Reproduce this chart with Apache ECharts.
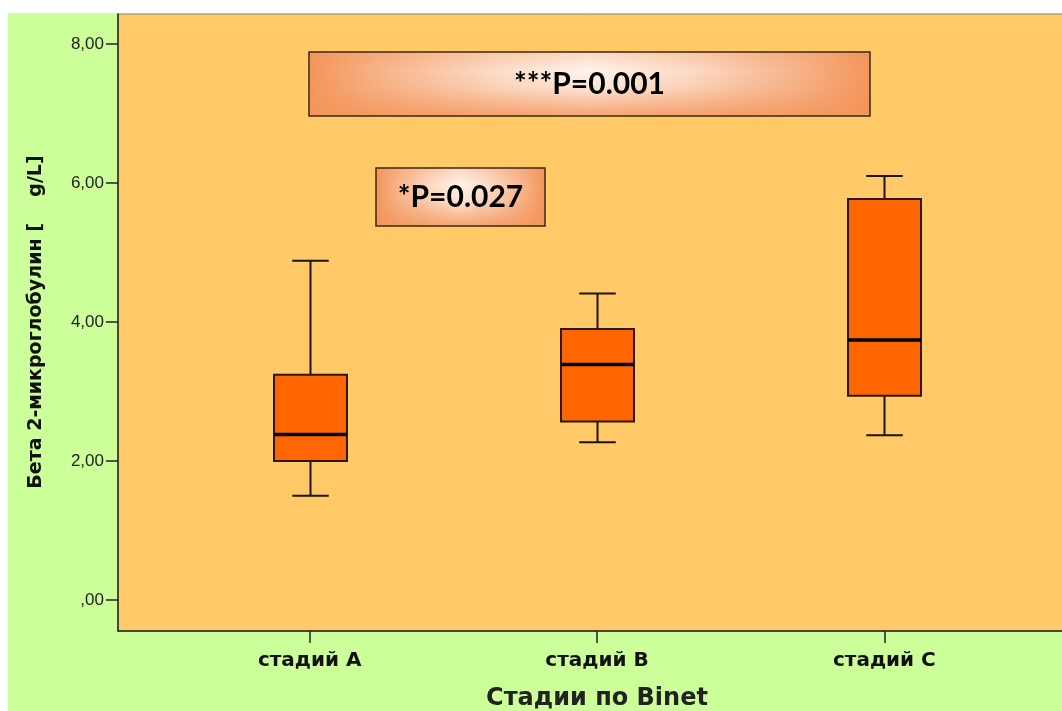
<!DOCTYPE html>
<html>
<head>
<meta charset="utf-8">
<script src="https://cdn.jsdelivr.net/npm/echarts@6/dist/echarts.min.js"></script>
<style>
  html, body { margin: 0; padding: 0; background: #ffffff; }
  #chart { width: 1062px; height: 711px; }
</style>
</head>
<body>
<div id="chart"></div>
<script>
// Beta-2-microglobulin by Binet stage: five-number summaries per stage
const categories   = ['стадий A', 'стадий B', 'стадий C'];
const minValues    = [1.50, 2.27, 2.37];
const q1Values     = [2.00, 2.57, 2.94];
const medianValues = [2.38, 3.39, 3.74];
const q3Values     = [3.24, 3.90, 5.77];
const maxValues    = [4.88, 4.41, 6.10];
const yTickValues  = [0, 2, 4, 6, 8];
const pLabels      = ['***P=0.001', '*P=0.027'];

const boxRows = categories.map((c, i) =>
  [i, minValues[i], q1Values[i], medianValues[i], q3Values[i], maxValues[i]]);

const chart = echarts.init(document.getElementById('chart'), null, { renderer: 'canvas' });

const wideFont = '"DejaVu Sans", Verdana, sans-serif';
const edge = '#f3955a';
function hGrad() {
  return new echarts.graphic.LinearGradient(0, 0, 1, 0, [
    { offset: 0, color: edge },
    { offset: 0.12, color: '#f7b287' },
    { offset: 0.33, color: '#fcdcc8' },
    { offset: 0.5, color: '#fff4ec' },
    { offset: 0.67, color: '#fcdcc8' },
    { offset: 0.88, color: '#f7b287' },
    { offset: 1, color: edge }
  ]);
}
function vGrad() {
  return new echarts.graphic.LinearGradient(0, 0, 0, 1, [
    { offset: 0, color: 'rgba(243,149,90,0.30)' },
    { offset: 0.3, color: 'rgba(243,149,90,0)' },
    { offset: 0.55, color: 'rgba(243,149,90,0.15)' },
    { offset: 1, color: 'rgba(243,149,90,0.85)' }
  ]);
}
// p-value annotation box with a soft orange frame gradient
function pBox(x, y, w, h, text) {
  return {
    type: 'group', z: 50,
    children: [
      { type: 'rect', shape: { x: x, y: y, width: w, height: h }, style: { fill: hGrad() } },
      { type: 'rect', shape: { x: x, y: y, width: w, height: h },
        style: { fill: vGrad(), stroke: '#3a2818', lineWidth: 1.5 } },
      { type: 'text', x: x + w / 2, y: y + h / 2,
        style: { text: text, fill: '#000', font: 'bold 30px Lato, "Open Sans", sans-serif',
                 align: 'center', verticalAlign: 'middle' } }
    ]
  };
}

const option = {
  animation: false,
  backgroundColor: '#ccff99',
  textStyle: { fontFamily: '"Liberation Sans", Arial, sans-serif' },
  graphic: [
    { type: 'rect', z: 40, shape: { x: 0, y: 0, width: 8, height: 711 }, style: { fill: '#ffffff' } },
    { type: 'rect', z: 40, shape: { x: 0, y: 0, width: 1062, height: 13 }, style: { fill: '#ffffff' } },
    pBox(309, 52, 561, 64, pLabels[0]),
    pBox(376, 168, 169, 58, pLabels[1])
  ],
  grid: [
    // plot frame
    { left: 118, right: -2, top: 14, bottom: 80, show: true, outerBoundsMode: 'none',
      backgroundColor: '#fec966', borderColor: '#8c8c8c', borderWidth: 1 },
    // data area
    { left: 166, right: 34, top: 44, bottom: 111, outerBoundsMode: 'none' },
    // category ticks and labels along the frame bottom
    { left: 166, right: 34, top: 14, bottom: 80, outerBoundsMode: 'none' }
  ],
  xAxis: [
    { type: 'value', gridIndex: 0, min: 0, max: 1,
      axisLine: { show: true, lineStyle: { color: '#222', width: 1.5 } },
      axisTick: { show: false }, axisLabel: { show: false }, splitLine: { show: false } },
    { type: 'category', gridIndex: 1, data: categories, show: false },
    { type: 'category', gridIndex: 2, data: categories,
      axisLine: { show: false },
      axisTick: { show: true, alignWithLabel: true, length: 12, lineStyle: { color: '#222', width: 1.5 } },
      axisLabel: { margin: 20, fontSize: 20, fontWeight: 'bold', color: '#111', fontFamily: wideFont },
      name: 'Стадии по Binet', nameLocation: 'middle', nameGap: 56,
      nameTextStyle: { fontSize: 24, fontWeight: 'bold', color: '#222', fontFamily: wideFont } }
  ],
  yAxis: [
    { type: 'value', gridIndex: 0, min: 0, max: 1,
      axisLine: { show: true, lineStyle: { color: '#222', width: 1.5 } },
      axisTick: { show: false }, axisLabel: { show: false }, splitLine: { show: false } },
    { type: 'value', gridIndex: 1, min: 0, max: 8, interval: 2, offset: 48,
      axisLine: { show: false },
      axisTick: { show: true, length: 12, lineStyle: { color: '#222', width: 1.5 } },
      splitLine: { show: false },
      axisLabel: { margin: 14, fontSize: 17, color: '#222',
        formatter: v => yTickValues.includes(v) ? (v === 0 ? ',00' : v.toFixed(2).replace('.', ',')) : '' },
      name: 'Бета 2-микроглобулин [    g/L]', nameLocation: 'middle', nameRotate: 90, nameGap: 72,
      nameTextStyle: { fontSize: 19, fontWeight: 'bold', color: '#111', fontFamily: wideFont } },
    { type: 'value', gridIndex: 2, min: 0, max: 1, show: false }
  ],
  series: [{
    type: 'custom',
    xAxisIndex: 1, yAxisIndex: 1,
    data: boxRows,
    encode: { x: 0, y: [1, 2, 3, 4, 5] },
    renderItem: function (params, api) {
      const c = api.value(0);
      const pMin = api.coord([c, api.value(1)]);
      const pQ1 = api.coord([c, api.value(2)]);
      const pMed = api.coord([c, api.value(3)]);
      const pQ3 = api.coord([c, api.value(4)]);
      const pMax = api.coord([c, api.value(5)]);
      const bw = api.size([1, 0])[0] * 0.254;
      const cx = Math.round(pMed[0]) + 0.5;
      const half = bw / 2, cap = bw / 4;
      const ls = { stroke: '#1c150e', lineWidth: 2 };
      return {
        type: 'group',
        children: [
          { type: 'line', shape: { x1: cx, y1: pMax[1], x2: cx, y2: pQ3[1] }, style: ls },
          { type: 'line', shape: { x1: cx, y1: pQ1[1], x2: cx, y2: pMin[1] }, style: ls },
          { type: 'line', shape: { x1: cx - cap, y1: pMax[1], x2: cx + cap, y2: pMax[1] }, style: ls },
          { type: 'line', shape: { x1: cx - cap, y1: pMin[1], x2: cx + cap, y2: pMin[1] }, style: ls },
          { type: 'rect', shape: { x: cx - half, y: pQ3[1], width: bw, height: pQ1[1] - pQ3[1] },
            style: { fill: '#ff6600', stroke: '#2a1808', lineWidth: 2 } },
          { type: 'line', shape: { x1: cx - half, y1: pMed[1], x2: cx + half, y2: pMed[1] },
            style: { stroke: '#000', lineWidth: 3.5 } }
        ]
      };
    }
  }]
};

chart.setOption(option);
</script>
</body>
</html>
